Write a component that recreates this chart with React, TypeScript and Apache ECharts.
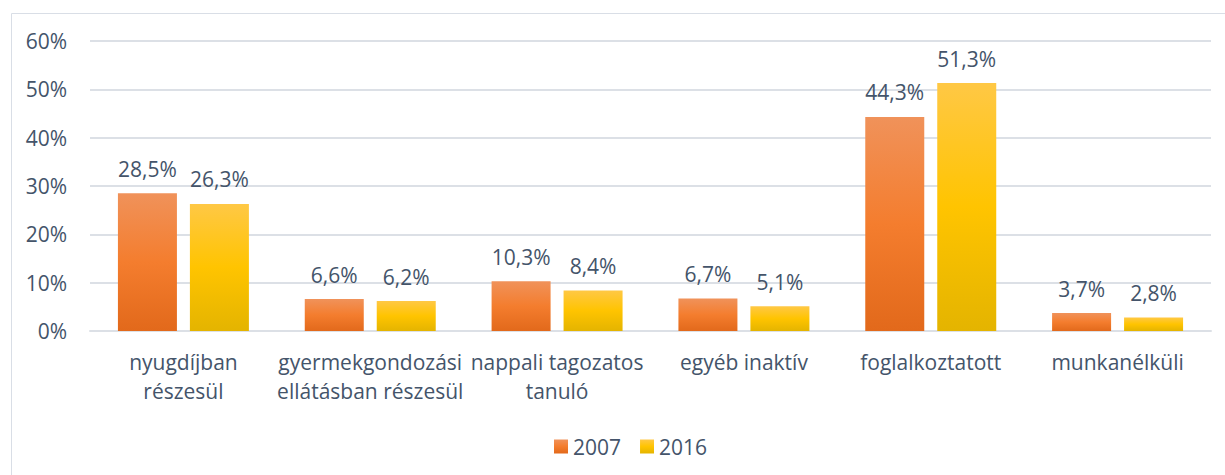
import React, { useEffect, useRef } from "react";
import * as echarts from "echarts";

const categories = [
  "nyugdíjban\nrészesül",
  "gyermekgondozási\nellátásban részesül",
  "nappali tagozatos\ntanuló",
  "egyéb inaktív",
  "foglalkoztatott",
  "munkanélküli",
];
const values2007 = [28.5, 6.6, 10.3, 6.7, 44.3, 3.7];
const values2016 = [26.3, 6.2, 8.4, 5.1, 51.3, 2.8];
const yTicks = [0, 10, 20, 30, 40, 50, 60];

const TEXT = "#44546A";
const FONT = "'Open Sans', sans-serif";
const FS = 21;

const orangeGrad = new echarts.graphic.LinearGradient(0, 0, 0, 1, [
  { offset: 0, color: "#F0925A" },
  { offset: 0.5, color: "#F47D2E" },
  { offset: 1, color: "#E2691B" },
]);
const yellowGrad = new echarts.graphic.LinearGradient(0, 0, 0, 1, [
  { offset: 0, color: "#FFC845" },
  { offset: 0.5, color: "#FFC400" },
  { offset: 1, color: "#E4B400" },
]);

const fmt = (v: number) => v.toFixed(1).replace(".", ",") + "%";

export default function App() {
  const ref = useRef<HTMLDivElement>(null);
  useEffect(() => {
    const chart = echarts.init(ref.current!, null, { renderer: "svg" });
    const labelCfg = {
      show: true,
      position: "top",
      distance: 14,
      color: TEXT,
      fontSize: FS,
      fontFamily: FONT,
      formatter: (p: any) => fmt(p.value),
    };
    chart.setOption({
      animation: false,
      textStyle: { fontFamily: FONT },
      graphic: [
        {
          type: "rect",
          left: 9,
          top: 11,
          shape: { width: 1240, height: 500 },
          style: { fill: "none", stroke: "#D9DEE6", lineWidth: 1 },
          silent: true,
        },
      ],
      grid: { left: 90, right: 14, top: 41, bottom: 144, containLabel: false },
      legend: {
        left: 549,
        top: 431,
        itemWidth: 14,
        itemHeight: 14,
        itemGap: 19,
        icon: "rect",
        textStyle: { color: TEXT, fontSize: FS, fontFamily: FONT },
        data: ["2007", "2016"],
      },
      xAxis: {
        type: "category",
        data: categories,
        axisLine: { show: true, lineStyle: { color: "#DCE0E6", width: 2 } },
        axisTick: { show: false },
        axisLabel: {
          color: TEXT,
          fontSize: FS,
          fontFamily: FONT,
          margin: 16,
          lineHeight: 29,
          interval: 0,
        },
      },
      yAxis: {
        type: "value",
        min: 0,
        max: 60,
        interval: 10,
        axisLine: { show: false },
        axisTick: { show: false },
        splitLine: { lineStyle: { color: "#DCE0E6", width: 2 } },
        axisLabel: {
          color: TEXT,
          fontSize: FS,
          fontFamily: FONT,
          margin: 23,
          formatter: (v: number) => (yTicks.includes(v) ? v + "%" : ""),
        },
      },
      series: [
        {
          name: "2007",
          type: "bar",
          data: values2007,
          barWidth: 59,
          barGap: "22%",
          itemStyle: { color: orangeGrad },
          label: labelCfg,
        },
        {
          name: "2016",
          type: "bar",
          data: values2016,
          barWidth: 59,
          itemStyle: { color: yellowGrad },
          label: labelCfg,
        },
      ],
    });
    return () => chart.dispose();
  }, []);
  return (
    <div
      ref={ref}
      style={{ position: "fixed", left: 0, top: 0, width: 1225, height: 475, background: "#fff" }}
    />
  );
}
